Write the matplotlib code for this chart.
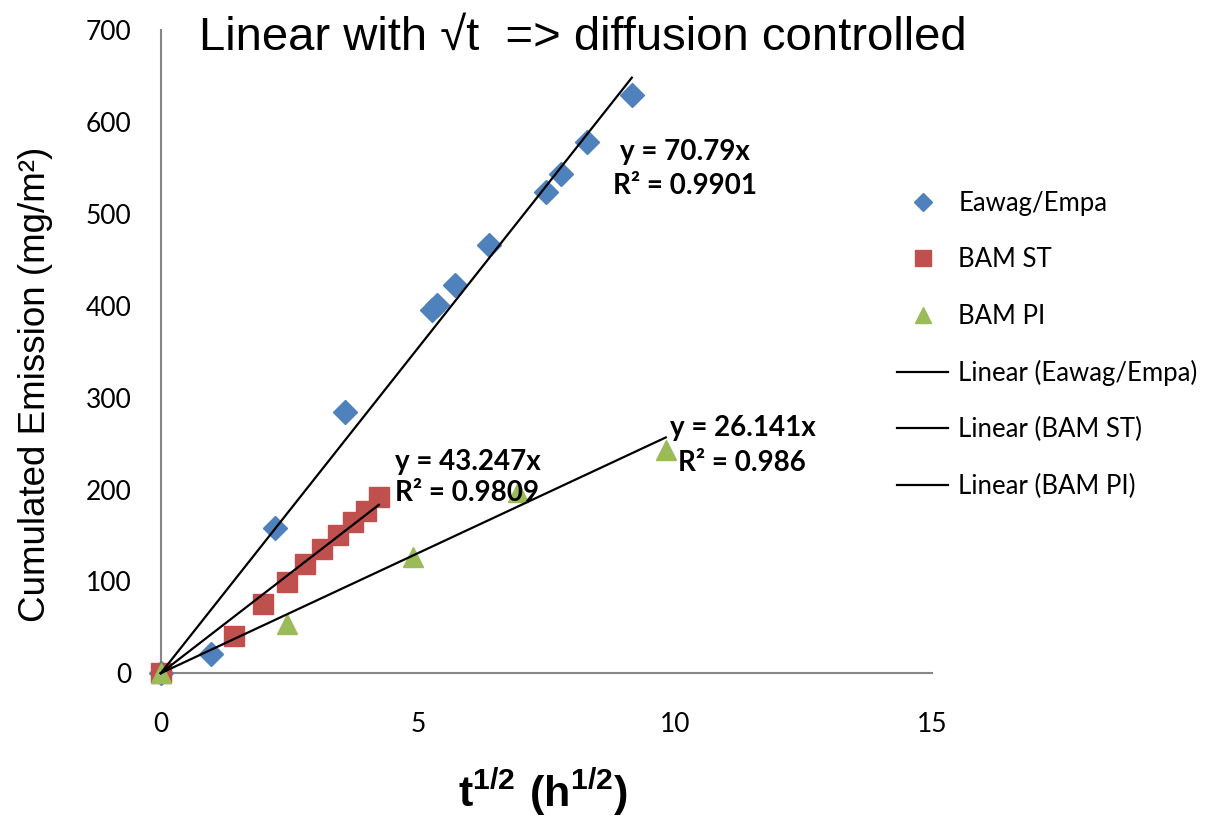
import numpy as np
import matplotlib
matplotlib.use("Agg")
import matplotlib.pyplot as plt
from matplotlib.lines import Line2D

plt.rcParams['font.family'] = ['Liberation Sans', 'DejaVu Sans']
plt.rcParams['mathtext.fontset'] = 'custom'
plt.rcParams['mathtext.rm'] = 'Liberation Sans'
plt.rcParams['mathtext.bf'] = 'Liberation Sans:bold'
narrow = ['Lato', 'DejaVu Sans']

# data (x = sqrt(t) in h^0.5, y = mg/m2)
eawag_x = [0, 0.97, 2.22, 3.58, 5.27, 5.38, 5.73, 6.38, 7.50, 7.79, 8.29, 9.16]
eawag_y = [0, 21, 158, 284, 395, 401, 423, 466, 524, 544, 578, 630]

bamst_x = [0, 1.42, 1.99, 2.45, 2.81, 3.14, 3.45, 3.74, 4.00, 4.24]
bamst_y = [0, 41, 75, 99, 119, 135, 151, 165, 177, 192]

bampi_x = [0, 2.45, 4.90, 6.95, 9.82]
bampi_y = [0, 54, 127, 197, 243]

# trendline slopes (fit through origin) and R2 as shown
slopes = [70.79, 43.247, 26.141]
r2 = ["0.9901", "0.9809", "0.986"]
names = ["Eawag/Empa", "BAM ST", "BAM PI"]
colors = ["#4F81BD", "#C0504D", "#9BBB59"]
markers = ["D", "s", "^"]
msizes = [12, 15, 15]

fig = plt.figure(figsize=(12.09, 8.19), dpi=100)
ax = fig.add_axes([0.133, 0.178, 0.638, 0.785])

series = [(eawag_x, eawag_y), (bamst_x, bamst_y), (bampi_x, bampi_y)]
for (xs, ys), c, m, ms in zip(series, colors, markers, msizes):
    ax.plot(xs, ys, linestyle='none', marker=m, color=c, markersize=ms,
            zorder=2, clip_on=False)

for (xs, ys), k in zip(series, slopes):
    xl = np.array([0, max(xs)])
    ax.plot(xl, k * xl, color='black', linewidth=1.6, zorder=3, clip_on=False)

ax.set_xlim(0, 15)
ax.set_ylim(0, 700)
ax.set_xticks([0, 5, 10, 15])
ax.set_yticks(range(0, 701, 100))
ax.tick_params(axis='both', length=0, labelsize=19)
ax.tick_params(axis='y', pad=21)
ax.tick_params(axis='x', pad=28)
for lbl in ax.get_xticklabels() + ax.get_yticklabels():
    lbl.set_family(narrow)
for s in ['top', 'right']:
    ax.spines[s].set_visible(False)
for s in ['left', 'bottom']:
    ax.spines[s].set_color('#868686')
    ax.spines[s].set_linewidth(1.5)
    ax.spines[s].set_zorder(1)

# equation labels
eq_style = dict(fontsize=20, fontweight='bold', family=narrow, va='center', ha='left')
ax.text(8.93, 567, "y = %sx" % slopes[0], **eq_style)
ax.text(8.79, 531, "R² = %s" % r2[0], **eq_style)
ax.text(4.55, 230, "y = %sx" % slopes[1], **eq_style)
ax.text(4.55, 196, "R² = %s" % r2[1], **eq_style)
ax.text(9.90, 267, "y = %sx" % slopes[2], **eq_style)
ax.text(10.06, 229, "R² = %s" % r2[2], **eq_style)

fig.text(0.482, 0.954, "Linear with √t  => diffusion controlled", fontsize=34,
         ha='center', va='center')
fig.text(0.029, 0.531, "Cumulated Emission (mg/m²)", fontsize=26.5, rotation=90,
         ha='center', va='center')
fig.text(0.449, 0.033, r"$\mathbf{t^{1/2}\ (h^{1/2})}$", fontsize=31,
         ha='center', va='center')

handles = [Line2D([], [], linestyle='none', marker=m, color=c, markersize=ms * 0.8)
           for c, m, ms in zip(colors, markers, msizes)]
handles += [Line2D([], [], color='black', linewidth=1.6) for _ in names]
labels = names + ["Linear (%s)" % n for n in names]
fig.legend(handles, labels, loc='upper left', bbox_to_anchor=(0.742, 0.767),
           frameon=False, borderpad=0, borderaxespad=0, labelspacing=1.22,
           handlelength=2.0, handletextpad=0.38,
           prop={'family': narrow, 'size': 18.5})

fig.savefig("out.png", dpi=100)
